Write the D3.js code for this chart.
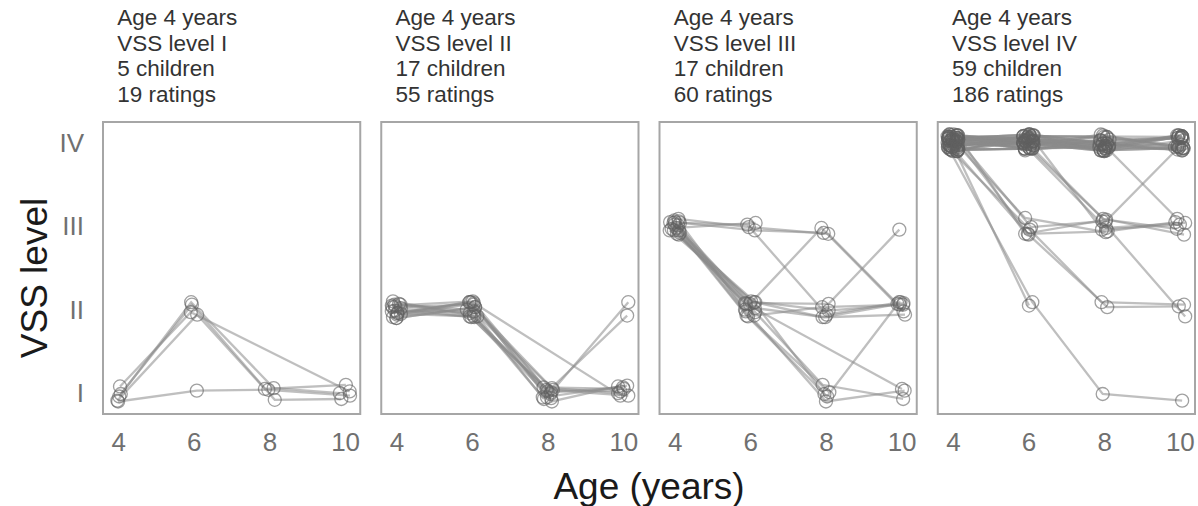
<!DOCTYPE html>
<html>
<head>
<meta charset="utf-8">
<script src="https://cdn.jsdelivr.net/npm/d3@7"></script>
<style>
  body { margin: 0; background: #fff; }
  text { font-family: "Liberation Sans", Arial, sans-serif; }
</style>
</head>
<body>
<svg id="chart" width="1198" height="506"></svg>
<script>
// ages at which VSS was rated, and level names
const ages = [4, 6, 8, 10];
const levelNames = ["I", "II", "III", "IV"];

// panel headers
const startLevel = ["I", "II", "III", "IV"];
const childCounts = [5, 17, 17, 59];
const ratingCounts = [19, 55, 60, 186];

// one row per child: VSS level at ages 4, 6, 8, 10 (null = not rated)
const panelI = [
  [1, 2, null, 1],
  [1, 2, 1, 1],
  [1, 2, 1, 1],
  [1, 2, 1, 1],
  [1, 1, 1, 1]
];

const panelII = [
  [2, 2, 1, 1], [2, 2, 1, 1], [2, 2, 1, 1], [2, 2, 1, 1],
  [2, 2, 1, 1], [2, 2, 1, 1], [2, 2, 1, 1],
  [2, 2, 1, 2], [2, 2, 1, 2],
  [2, 2, null, 1],
  [2, 2, 1, null], [2, 2, 1, null], [2, 2, 1, null],
  [2, 2, null, null], [2, 2, null, null], [2, 2, null, null],
  [2, null, null, null]
];

const panelIII = [
  [3, 3, 3, 2],
  [3, 3, 3, null],
  [3, 2, 3, 2],
  [3, 3, 2, 2],
  [3, 2, 2, 3],
  [3, 2, 2, 2], [3, 2, 2, 2], [3, 2, 2, 2], [3, 2, 2, 2],
  [3, 2, 1, 2],
  [3, 2, 1, 1], [3, 2, 1, 1],
  [3, 2, 1, null],
  [3, 2, null, 1],
  [3, 2, 1, null],
  [3, 2, null, null],
  [3, 3, null, null]
];

const panelIV = [
  [4, 4, 4, 4], [4, 4, 4, 4], [4, 4, 4, 4], [4, 4, 4, 4], [4, 4, 4, 4], [4, 4, 4, 4],
  [4, 4, 4, 4], [4, 4, 4, 4], [4, 4, 4, 4], [4, 4, 4, 4], [4, 4, 4, 4], [4, 4, 4, 4],
  [4, 4, 4, 4], [4, 4, 4, 4], [4, 4, 4, 4], [4, 4, 4, 4], [4, 4, 4, 4], [4, 4, 4, 4],
  [4, 4, 4, 3],
  [4, 4, 4, null], [4, 4, 4, null], [4, 4, 4, null], [4, 4, 4, null],
  [4, 4, 4, null], [4, 4, 4, null], [4, 4, 4, null], [4, 4, 4, null],
  [4, 4, null, 4], [4, 4, null, 4], [4, 4, null, 4], [4, 4, null, 4],
  [4, 4, null, null], [4, 4, null, null], [4, 4, null, null], [4, 4, null, null], [4, 4, null, null],
  [4, 4, null, null], [4, 4, null, null], [4, 4, null, null], [4, 4, null, null],
  [4, null, 4, 4], [4, null, 4, 4],
  [4, null, null, null], [4, null, null, null], [4, null, null, null], [4, null, null, null], [4, null, null, null],
  [4, 4, 3, 3], [4, 4, 3, 3], [4, 4, 3, 3],
  [4, 4, 3, 4],
  [4, 3, 3, 3], [4, 3, 3, 3],
  [4, 3, 3, 2],
  [4, 3, 2, 2], [4, 3, 2, 2],
  [4, 3, 3, null],
  [4, 2, 1, 1],
  [4, 2, null, null]
];

// hand-placed jitter offsets [years, levels], used in turn so points don't sit on top of each other
const jitter = [
  [0.05, 0.08], [-0.08, -0.03], [0.12, 0.02], [-0.02, -0.09], [0.09, -0.06], [-0.12, 0.05],
  [0.02, 0.10], [0.07, -0.01], [-0.05, 0.06], [0.14, -0.08], [-0.10, -0.07], [0.03, -0.04],
  [-0.07, 0.09], [0.11, 0.06], [-0.14, 0.00], [0.00, -0.10], [0.08, 0.03], [-0.03, 0.04],
  [0.13, -0.03], [-0.09, 0.10], [0.04, -0.07], [-0.13, -0.05], [0.10, 0.09], [-0.04, -0.01],
  [0.06, -0.09], [-0.11, 0.07], [0.01, 0.05], [0.12, -0.05], [-0.06, -0.08], [0.09, 0.01],
  [-0.01, 0.07], [-0.12, -0.02], [0.05, -0.02], [0.14, 0.04], [-0.08, 0.02], [0.02, -0.06],
  [-0.03, 0.09], [0.11, -0.10], [-0.14, 0.08], [0.07, 0.07], [-0.06, -0.04], [0.00, 0.02],
  [0.10, -0.07], [-0.10, 0.03], [0.04, 0.06], [-0.02, -0.05], [0.13, 0.09], [-0.09, -0.09]
];

const panels = [panelI, panelII, panelIII, panelIV];

const svg = d3.select("#chart");
const yTop = 122, yBottom = 414;

const band = d3.scaleBand()
  .domain(d3.range(4))
  .range([103, 1195])
  .paddingInner(0.0755);

const y = d3.scaleLinear().domain([0.75, 4.25]).range([yBottom, yTop]);

panels.forEach((rows, p) => {
  const x0 = band(p);
  const x = d3.scaleLinear().domain([3.6, 10.4]).range([x0, x0 + band.bandwidth()]);
  const g = svg.append("g");

  // header text
  const header = [
    "Age 4 years",
    "VSS level " + startLevel[p],
    childCounts[p] + " children",
    ratingCounts[p] + " ratings"
  ];
  g.selectAll("text.head").data(header).join("text")
    .attr("class", "head")
    .attr("x", x(4) - 1)
    .attr("y", (d, i) => 25 + i * 25.7)
    .attr("font-size", 22.5)
    .attr("fill", "#333")
    .text(d => d);

  // jittered points for each child
  let k = p * 11;
  const traj = rows.map(r => {
    const pts = [];
    r.forEach((lev, i) => {
      if (lev == null) return;
      const j = jitter[k % jitter.length];
      k++;
      pts.push([ages[i] + j[0], lev + j[1]]);
    });
    return pts;
  });

  const line = d3.line().x(d => x(d[0])).y(d => y(d[1]));

  g.append("g").selectAll("path").data(traj).join("path")
    .attr("d", line)
    .attr("fill", "none")
    .attr("stroke", "#8a8a8a")
    .attr("stroke-opacity", 0.55)
    .attr("stroke-width", 2.3);

  g.append("g").selectAll("circle").data(traj.flat()).join("circle")
    .attr("cx", d => x(d[0]))
    .attr("cy", d => y(d[1]))
    .attr("r", 6.5)
    .attr("fill", "none")
    .attr("stroke", "#606060")
    .attr("stroke-opacity", 0.6)
    .attr("stroke-width", 1.3);

  // frame
  g.append("rect")
    .attr("x", x0)
    .attr("y", yTop)
    .attr("width", band.bandwidth())
    .attr("height", yBottom - yTop)
    .attr("fill", "none")
    .attr("stroke", "#a6a6a6")
    .attr("stroke-width", 2);

  // x axis ticks
  const xAxis = d3.axisBottom(x).tickValues(ages).tickFormat(d3.format("d"))
    .tickSize(0).tickPadding(0);
  const ax = g.append("g").attr("transform", `translate(0,${yBottom + 19})`).call(xAxis);
  ax.select(".domain").remove();
  ax.selectAll("text")
    .attr("font-size", 26)
    .attr("fill", "#707070")
    .attr("dy", "0.71em")
    .style("font-family", "'Liberation Sans', Arial, sans-serif");
});

// y axis labels
const yAxis = d3.axisLeft(y).tickValues([1, 2, 3, 4])
  .tickFormat(d => levelNames[d - 1]).tickSize(0).tickPadding(0);
const ay = svg.append("g").attr("transform", "translate(84,0)").call(yAxis);
ay.select(".domain").remove();
ay.selectAll("text")
  .attr("font-size", 26)
  .attr("fill", "#707070")
  .style("font-family", "'Liberation Sans', Arial, sans-serif");

// axis titles
svg.append("text")
  .attr("x", 649)
  .attr("y", 499)
  .attr("text-anchor", "middle")
  .attr("font-size", 37)
  .attr("fill", "#1a1a1a")
  .text("Age (years)");

svg.append("text")
  .attr("transform", `translate(47,${(yTop + yBottom) / 2 + 10}) rotate(-90)`)
  .attr("text-anchor", "middle")
  .attr("font-size", 37)
  .attr("fill", "#1a1a1a")
  .text("VSS level");
</script>
</body>
</html>
